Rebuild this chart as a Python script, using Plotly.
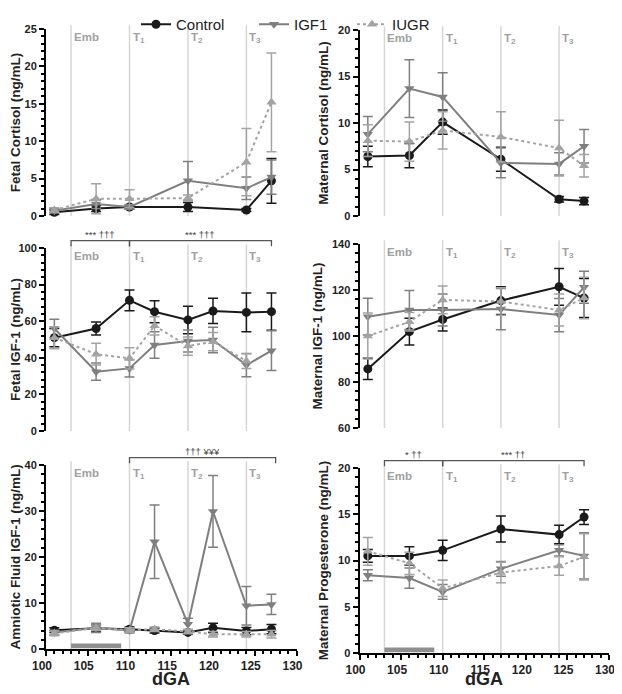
import plotly.graph_objects as go
from plotly.subplots import make_subplots

# sampling days (dGA)
x6 = [101, 106, 110, 117, 124, 127]
x8 = [101, 106, 110, 113, 117, 120, 124, 127]

# Fetal cortisol
fc_ctrl = [0.5, 1.0, 1.2, 1.2, 0.8, 4.7]
fc_ctrl_err = [0.3, 0.4, 0.3, 0.6, 0.2, 3.0]
fc_igf = [0.7, 1.6, 1.2, 4.7, 3.7, 5.2]
fc_igf_err = [0.3, 0.6, 0.3, 2.6, 1.5, 2.3]
fc_iugr = [0.8, 2.3, 2.3, 2.4, 7.2, 15.2]
fc_iugr_err = [0.3, 2.0, 1.2, 0.4, 4.5, 6.6]

# Maternal cortisol
mc_ctrl = [6.4, 6.5, 10.1, 6.1, 1.8, 1.6]
mc_ctrl_err = [1.1, 1.3, 1.3, 1.3, 0.3, 0.4]
mc_igf = [8.8, 13.7, 12.8, 5.7, 5.6, 7.5]
mc_igf_err = [1.9, 3.1, 2.6, 1.6, 1.2, 1.8]
mc_iugr = [8.1, 8.0, 9.2, 8.5, 7.3, 5.4]
mc_iugr_err = [1.7, 2.1, 2.0, 2.7, 3.0, 1.2]

# Fetal IGF-1
fi_ctrl = [51.0, 56.0, 71.4, 65.2, 60.7, 65.6, 64.8, 65.2]
fi_ctrl_err = [5.0, 3.6, 5.7, 6.0, 7.5, 6.9, 10.6, 10.2]
fi_igf = [56.0, 32.4, 34.2, 47.0, 49.2, 49.7, 36.0, 43.9]
fi_igf_err = [5.0, 4.7, 4.7, 7.3, 6.0, 7.0, 6.3, 10.9]
fi_iugr = [51.0, 42.0, 39.7, 57.5, 46.4, 48.8, 38.2, None]
fi_iugr_err = [6.0, 6.0, 5.8, 5.0, 5.0, 5.0, 4.0, None]

# Maternal IGF-1
mi_ctrl = [85.7, 101.9, 107.2, 115.4, 121.4, 116.5]
mi_ctrl_err = [4.6, 5.8, 5.0, 6.0, 8.0, 8.5]
mi_igf = [108.4, 111.3, 111.3, 111.7, 109.1, 121.2]
mi_igf_err = [8.0, 8.5, 7.0, 9.0, 7.2, 7.0]
mi_iugr = [100.0, 106.2, 115.7, 115.0, 111.3, 116.5]
mi_iugr_err = [10.0, 4.0, 6.0, 6.0, 7.0, 9.0]

# Amniotic fluid IGF-1
af_ctrl = [4.1, 4.5, 4.3, 4.0, 3.6, 4.6, 3.9, 4.3]
af_ctrl_err = [0.5, 0.7, 0.5, 0.5, 0.4, 1.0, 0.8, 1.0]
af_igf = [3.6, 4.6, 4.0, 23.3, 5.4, 29.9, 9.4, 9.7]
af_igf_err = [0.5, 1.0, 0.5, 8.0, 1.3, 7.8, 4.2, 2.2]
af_iugr = [3.4, 4.6, 4.1, 4.3, 3.8, 3.2, 3.2, 3.2]
af_iugr_err = [0.5, 0.6, 0.5, 0.5, 0.5, 0.6, 0.6, 0.8]

# Maternal progesterone
mp_ctrl = [10.5, 10.5, 11.1, 13.4, 12.8, 14.7]
mp_ctrl_err = [0.7, 1.0, 1.1, 1.4, 1.0, 0.8]
mp_igf = [8.4, 8.1, 6.6, 9.1, 11.1, 10.5]
mp_igf_err = [0.6, 1.1, 0.8, 0.8, 0.6, 2.5]
mp_iugr = [11.0, 9.7, 7.0, 8.7, 9.4, 10.4]
mp_iugr_err = [1.5, 1.2, 0.9, 1.1, 1.0, 2.5]

stage_x = [103, 110, 117, 124]
stage_names = ["Emb", "T<sub>1</sub>", "T<sub>2</sub>", "T<sub>3</sub>"]
emb_bar = [103, 109]

fi_brackets = [(103, 110, "*** \u2020\u2020\u2020"), (110, 127, "*** \u2020\u2020\u2020")]
af_brackets = [(110, 127.5, "\u2020\u2020\u2020 \u00a5\u00a5\u00a5")]
mp_brackets = [(103, 110, "* \u2020\u2020"), (110, 127, "*** \u2020\u2020")]

names = ["Control", "IGF1", "IUGR"]
colors = ["#1a1a1a", "#7f7f7f", "#a3a3a3"]
symbols = ["circle", "triangle-down", "triangle-up"]
dashes = ["solid", "solid", "dot"]
legend_ids = ["legend", "legend2", "legend3"]

panels = [
    dict(title="Fetal Cortisol (ng/mL)", x=x6,
         ys=[(fc_ctrl, fc_ctrl_err), (fc_igf, fc_igf_err), (fc_iugr, fc_iugr_err)],
         yr=[0, 25], dt=5, mdt=1, br=[], dom=(216, 29), col=0),
    dict(title="Maternal Cortisol (ng/mL)", x=x6,
         ys=[(mc_ctrl, mc_ctrl_err), (mc_igf, mc_igf_err), (mc_iugr, mc_iugr_err)],
         yr=[0, 20], dt=5, mdt=1, br=[], dom=(216, 30), col=1),
    dict(title="Fetal IGF-1 (ng/mL)", x=x8,
         ys=[(fi_ctrl, fi_ctrl_err), (fi_igf, fi_igf_err), (fi_iugr, fi_iugr_err)],
         yr=[0, 100], dt=20, mdt=4, br=fi_brackets, dom=(431, 248), col=0),
    dict(title="Maternal IGF-1 (ng/mL)", x=x6,
         ys=[(mi_ctrl, mi_ctrl_err), (mi_igf, mi_igf_err), (mi_iugr, mi_iugr_err)],
         yr=[60, 140], dt=20, mdt=4, br=[], dom=(428, 244), col=1),
    dict(title="Amniotic Fluid IGF-1 (ng/mL)", x=x8,
         ys=[(af_ctrl, af_ctrl_err), (af_igf, af_igf_err), (af_iugr, af_iugr_err)],
         yr=[0, 40], dt=10, mdt=2, br=af_brackets, dom=(649, 465), col=0),
    dict(title="Maternal Progesterone (ng/mL)", x=x6,
         ys=[(mp_ctrl, mp_ctrl_err), (mp_igf, mp_igf_err), (mp_iugr, mp_iugr_err)],
         yr=[0, 20], dt=5, mdt=1, br=mp_brackets, dom=(653, 468), col=1),
]

# page body has an 8px margin, so the figure is 16px smaller than the window
OFF = 8
W, H = 622 - 2 * OFF, 694 - 2 * OFF
FONT = "Liberation Sans, Arial, sans-serif"


def px_x(v):
    return (v - OFF) / W


def px_y(v):
    return 1 - (v - OFF) / H


xdoms = [[px_x(46), px_x(296.5)], [px_x(359.5), px_x(609)]]

fig = make_subplots(rows=3, cols=2)

for i, p in enumerate(panels):
    row, col = i // 2 + 1, i % 2 + 1
    n = "" if i == 0 else str(i + 1)
    xa, ya = "x" + n, "y" + n
    for k in range(3):
        yv, ev = p["ys"][k]
        fig.add_trace(go.Scatter(
            x=p["x"], y=yv, name=names[k], mode="lines+markers",
            line=dict(color=colors[k], width=2, dash=dashes[k]),
            marker=dict(color=colors[k], symbol=symbols[k], size=9),
            error_y=dict(type="data", array=ev, color=colors[k], thickness=1.5, width=5),
            showlegend=(i == 0), cliponaxis=False, legend=legend_ids[k],
        ), row=row, col=col)

    # stage lines and labels
    for sx, sn in zip(stage_x, stage_names):
        fig.add_shape(type="line", xref=xa, yref=ya + " domain", x0=sx, x1=sx, y0=0, y1=1.02,
                      line=dict(color="#d6d6d6", width=1.5), layer="below")
        fig.add_annotation(xref=xa, yref=ya + " domain", x=sx, y=1.0, xanchor="left", yanchor="top",
                           xshift=1, text=sn, showarrow=False,
                           font=dict(family=FONT, size=11.5, color="#a0a0a0", weight="bold"))

    for x0, x1, lab in p["br"]:
        fig.add_shape(type="path", xref=xa, yref=ya + " domain",
                      path=f"M {x0},1.01 L {x0},1.04 L {x1},1.04 L {x1},1.01",
                      line=dict(color="#555555", width=1.3))
        fig.add_annotation(xref=xa, yref=ya + " domain", x=(x0 + x1) / 2, y=1.04, yanchor="bottom",
                           text=lab, showarrow=False, yshift=-1,
                           font=dict(family=FONT, size=9.5, color="#444444"))

    bottom = row == 3
    if bottom:
        fig.add_shape(type="rect", xref=xa, yref=ya + " domain", x0=emb_bar[0], x1=emb_bar[1],
                      y0=0.004, y1=0.03, fillcolor="#8f8f8f", line=dict(width=0))
        # x-axis title placed at the bottom edge of the page
        fig.add_annotation(xref=xa + " domain", yref="paper", x=0.5, y=0, yanchor="bottom",
                           yshift=-5, text="dGA", showarrow=False,
                           font=dict(family=FONT, size=18, color="#222", weight="bold"))

    fig.update_xaxes(domain=xdoms[p["col"]], range=[100, 130], visible=bottom, automargin=False,
                     showline=True, linecolor="black", linewidth=2, ticks="outside",
                     ticklen=5, tickwidth=2, tickcolor="black", dtick=5, showgrid=False, zeroline=False,
                     minor=dict(dtick=1, ticks="outside", ticklen=3, tickwidth=1.5, tickcolor="black"),
                     ticklabelshift=-4, ticklabeloverflow="allow",
                     tickfont=dict(family=FONT, size=12, color="#222", weight="bold"),
                     row=row, col=col)
    fig.update_yaxes(domain=[px_y(p["dom"][0]), px_y(p["dom"][1])], range=p["yr"], automargin=False,
                     showline=True, linecolor="black", linewidth=2, ticks="outside",
                     ticklen=5, tickwidth=2, tickcolor="black", dtick=p["dt"], showgrid=False, zeroline=False,
                     minor=dict(dtick=p["mdt"], ticks="outside", ticklen=3, tickwidth=1.5, tickcolor="black"),
                     tickfont=dict(family=FONT, size=11, color="#222", weight="bold"),
                     title=dict(text=p["title"], standoff=6,
                                font=dict(family=FONT, size=13.5, color="#222", weight="bold")),
                     row=row, col=col)

leg_font = dict(family=FONT, size=15, color="#222")
leg_common = dict(xanchor="left", y=1.0, yanchor="top", font=leg_font, bgcolor="rgba(0,0,0,0)")
fig.update_layout(
    width=W, height=H, plot_bgcolor="white", paper_bgcolor="white",
    margin=dict(l=0, r=0, t=0, b=0),
    legend=dict(x=px_x(136), **leg_common),
    legend2=dict(x=px_x(254), **leg_common),
    legend3=dict(x=px_x(352), **leg_common),
)

fig.write_html("out.html")
